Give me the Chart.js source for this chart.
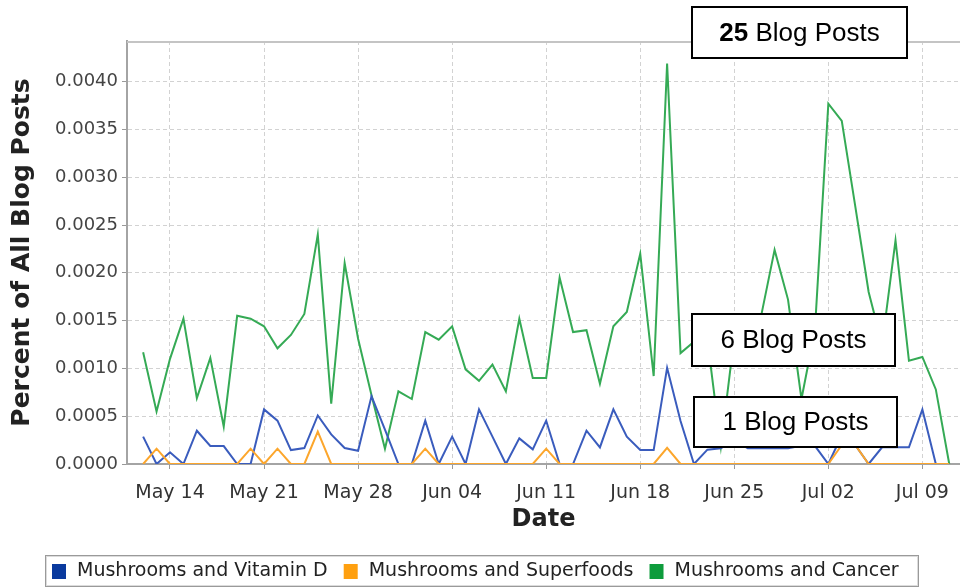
<!DOCTYPE html>
<html>
<head>
<meta charset="utf-8">
<script src="https://cdn.jsdelivr.net/npm/chart.js@4.4.1/dist/chart.umd.min.js"></script>
<style>
  html, body { margin: 0; padding: 0; background: #ffffff; }
  #wrap { width: 960px; height: 588px; }
</style>
</head>
<body>
<div id="wrap"><canvas id="c" width="960" height="588"></canvas></div>
<script>
// ---- data ----
const categories = [
  "May 12","May 13","May 14","May 15","May 16","May 17","May 18","May 19","May 20","May 21",
  "May 22","May 23","May 24","May 25","May 26","May 27","May 28","May 29","May 30","May 31",
  "Jun 01","Jun 02","Jun 03","Jun 04","Jun 05","Jun 06","Jun 07","Jun 08","Jun 09","Jun 10",
  "Jun 11","Jun 12","Jun 13","Jun 14","Jun 15","Jun 16","Jun 17","Jun 18","Jun 19","Jun 20",
  "Jun 21","Jun 22","Jun 23","Jun 24","Jun 25","Jun 26","Jun 27","Jun 28","Jun 29","Jun 30",
  "Jul 01","Jul 02","Jul 03","Jul 04","Jul 05","Jul 06","Jul 07","Jul 08","Jul 09","Jul 10",
  "Jul 11"
];
const vitaminD = [
  0.000286,0,0.000122,0,0.000348,0.000188,0.000188,0,0,0.000571,
  0.000453,0.000146,0.000167,0.000508,0.00031,0.000167,0.000139,0.00071,0.00036,0,
  0,0.000453,0,0.000286,0,0.000571,0.000286,0,0.000268,0.000153,
  0.000453,0,0,0.000348,0.000174,0.000571,0.000286,0.000146,0.000146,0.001006,
  0.00045,0,0.00015,0.000165,0.00025,0.000165,0.000165,0.000165,0.000165,0.00019,
  0.00019,0,0.0003,0.0002,0,0.000175,0.000175,0.000175,0.00057,0,
  0
];
const superfoods = [
  0,0.00016,0,0,0,0,0,0,0.00016,0,
  0.00016,0,0,0.00034,0,0,0,0,0,0,
  0,0.00016,0,0,0,0,0,0,0,0,
  0.00016,0,0,0,0,0,0,0,0,0.00017,
  0,0,0,0,0,0,0,0,0,0,
  0,0,0.0002,0.0002,0,0,0,0,0,0,
  0
];
const cancer = [
  0.00117,0.00055,0.00110,0.00152,0.00069,0.00111,0.00039,0.00155,0.00152,0.00144,
  0.00121,0.00135,0.00157,0.00240,0.00063,0.00210,0.00131,0.00072,0.00016,0.00076,
  0.00068,0.00138,0.00130,0.00144,0.00099,0.00087,0.00104,0.00076,0.00152,0.00090,
  0.00090,0.00195,0.00138,0.00140,0.00084,0.00144,0.00159,0.00220,0.00092,0.00419,
  0.00116,0.00128,0.00130,0.00018,0.00133,0.00140,0.00155,0.00224,0.00172,0.00068,
  0.00140,0.00377,0.00359,0.00270,0.00180,0.00125,0.00234,0.00108,0.00112,0.00078,
  0
];
const xTickLabels = ["May 14","May 21","May 28","Jun 04","Jun 11","Jun 18","Jun 25","Jul 02","Jul 09"];
const yTickValues = [0,0.0005,0.0010,0.0015,0.0020,0.0025,0.0030,0.0035,0.0040];
const seriesNames = ["Mushrooms and Vitamin D","Mushrooms and Superfoods","Mushrooms and Cancer"];
const annotations = [
  { bold: "25", text: " Blog Posts" },
  { bold: "", text: "6 Blog Posts" },
  { bold: "", text: "1 Blog Posts" }
];

// day offset (relative to May 14) from a "Mon DD" label
const monthStart = { May: 0, Jun: 31, Jul: 61 };
function dayOf(label) {
  const [m, d] = label.split(" ");
  return monthStart[m] + parseInt(d, 10) - 14;
}
function pts(values) {
  return categories.map((c, i) => ({ x: dayOf(c), y: values[i] }));
}

const FONT = "'DejaVu Sans', sans-serif";

// ---- plugins ----
const decorPlugin = {
  id: 'decor',
  beforeDatasetsDraw(chart) {
    const { ctx, chartArea: a } = chart;
    ctx.save();
    ctx.strokeStyle = '#c4c4c4';
    ctx.lineWidth = 2;
    ctx.beginPath();
    ctx.moveTo(a.left, a.top + 1);
    ctx.lineTo(a.right, a.top + 1);
    ctx.stroke();
    ctx.restore();
  },
  afterDatasetsDraw(chart) {
    const { ctx } = chart;
    const boxes = [
      { x: 692, y: 7, w: 215, h: 51 },
      { x: 692, y: 314, w: 203, h: 52 },
      { x: 694, y: 397, w: 203, h: 50 }
    ];
    ctx.save();
    annotations.forEach((an, i) => {
      const b = boxes[i];
      ctx.fillStyle = '#ffffff';
      ctx.fillRect(b.x, b.y, b.w, b.h);
      ctx.strokeStyle = '#000000';
      ctx.lineWidth = 2;
      ctx.strokeRect(b.x, b.y, b.w, b.h);
      const fb = "bold 26px 'Liberation Sans', Arial, sans-serif";
      const fn = "26px 'Liberation Sans', Arial, sans-serif";
      ctx.font = fb; const wb = an.bold ? ctx.measureText(an.bold).width : 0;
      ctx.font = fn; const wn = ctx.measureText(an.text).width;
      let x = b.x + b.w / 2 - (wb + wn) / 2;
      const y = b.y + b.h / 2 + 1;
      ctx.fillStyle = '#000000';
      ctx.textBaseline = 'middle';
      ctx.textAlign = 'left';
      if (an.bold) { ctx.font = fb; ctx.fillText(an.bold, x, y); x += wb; }
      ctx.font = fn; ctx.fillText(an.text, x, y);
    });
    ctx.restore();
  },
  afterDraw(chart) {
    // legend
    const { ctx } = chart;
    ctx.save();
    ctx.strokeStyle = '#9a9a9a';
    ctx.lineWidth = 1;
    ctx.strokeRect(45.5, 555.5, 873, 31);
    ctx.strokeStyle = '#dcdcdc';
    ctx.strokeRect(46.5, 556.5, 871, 29);
    ctx.font = "19px " + FONT;
    ctx.textBaseline = 'middle';
    ctx.textAlign = 'left';
    let x = 52;
    const cy = 571;
    chart.data.datasets.forEach((ds) => {
      ctx.fillStyle = ds.backgroundColor;
      ctx.fillRect(x, cy - 7, 14, 15);
      ctx.fillStyle = '#222222';
      ctx.fillText(ds.label, x + 25, cy);
      x += 25 + ctx.measureText(ds.label).width + 16;
    });
    ctx.restore();
  }
};

const ctx = document.getElementById('c').getContext('2d');
new Chart(ctx, {
  type: 'line',
  data: {
    datasets: [
      { label: seriesNames[0], data: pts(vitaminD), borderColor: '#3a5cbd', backgroundColor: '#0a3a9e', borderWidth: 2, pointRadius: 0, tension: 0, order: 1 },
      { label: seriesNames[1], data: pts(superfoods), borderColor: '#fca62c', backgroundColor: '#ffa010', borderWidth: 2, pointRadius: 0, tension: 0, order: 0 },
      { label: seriesNames[2], data: pts(cancer), borderColor: '#35aa55', backgroundColor: '#0e9c3c', borderWidth: 2, pointRadius: 0, tension: 0, order: 2 }
    ]
  },
  options: {
    responsive: false,
    animation: false,
    devicePixelRatio: 1,
    layout: { padding: { top: 41, right: 0, bottom: 43, left: 0 } },
    plugins: { legend: { display: false }, tooltip: { enabled: false } },
    scales: {
      x: {
        type: 'linear',
        min: -3.2,
        max: 58.8,
        afterBuildTicks: (s) => { s.ticks = xTickLabels.map(l => ({ value: dayOf(l) })); },
        afterFit: (s) => { s.height = 81; s.paddingLeft = 0; s.paddingRight = 0; },
        ticks: {
          autoSkip: false, maxRotation: 0,
          callback: (v, i) => xTickLabels[i],
          font: { family: FONT, size: 19 }, color: '#333333', padding: 13
        },
        grid: { color: '#d2d2d2', lineWidth: 1, tickLength: 5, tickColor: '#999999', tickWidth: 1 },
        border: { display: true, color: '#a4a4a4', width: 2, dash: [4, 3] },
        title: { display: true, text: 'Date', color: '#222222', font: { family: FONT, size: 24, weight: 'bold' }, padding: { top: 0, bottom: 11 } }
      },
      y: {
        min: 0,
        max: 0.004425,
        afterBuildTicks: (s) => { s.ticks = yTickValues.map(v => ({ value: v })); },
        afterFit: (s) => { s.width = 127; },
        ticks: {
          callback: (v) => Number(v).toFixed(4),
          font: { family: FONT, size: 18 }, color: '#444444', padding: 4
        },
        grid: { color: '#d2d2d2', lineWidth: 1, tickLength: 5, tickColor: '#999999', tickWidth: 1 },
        border: { display: true, color: '#a4a4a4', width: 2, dash: [4, 3] },
        title: { display: true, text: 'Percent of All Blog Posts', color: '#222222', font: { family: FONT, size: 25, weight: 'bold' }, padding: { top: 7, bottom: 0 } }
      }
    }
  },
  plugins: [decorPlugin]
});
</script>
</body>
</html>
